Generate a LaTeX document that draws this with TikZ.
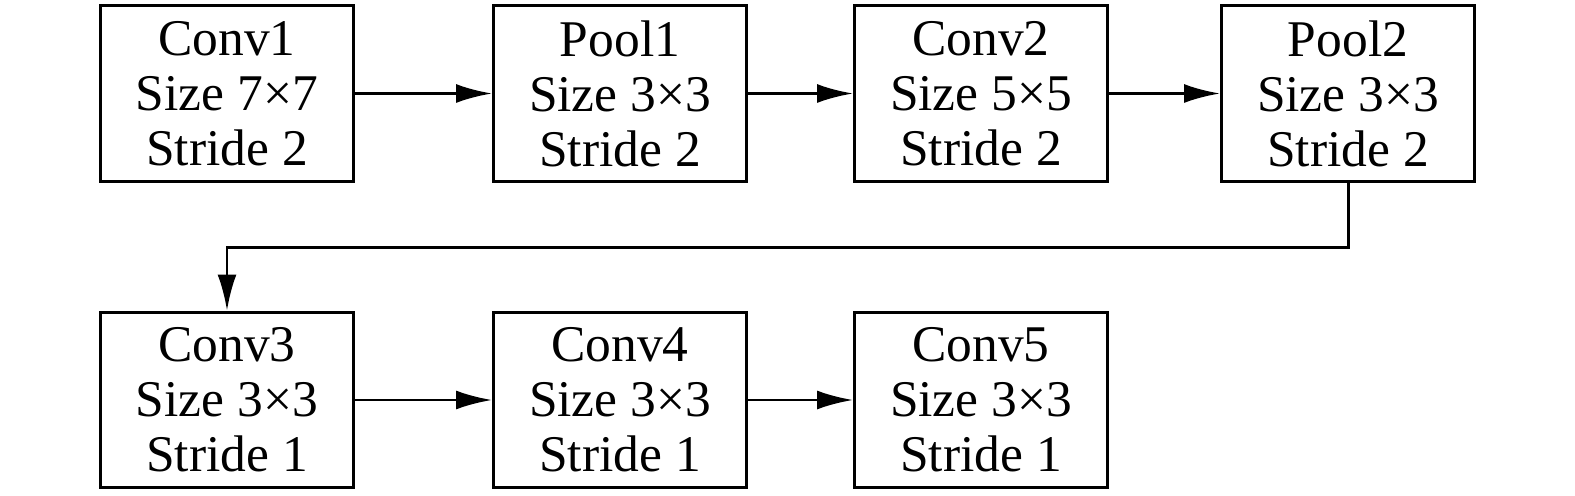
\documentclass[tikz,border=0pt]{standalone}
\usepackage{fontspec}
\setmainfont{Liberation Serif}
\usetikzlibrary{arrows.meta}

\tikzset{
  layer/.style={draw, line width=1.7pt, minimum width=5.06cm, minimum height=3.52cm, align=center, inner sep=0pt,
    font=\fontsize{29.3}{31.3}\selectfont},
  flow/.style={line width=1.7pt, -{Latex[length=0.72cm,width=0.38cm]}}
}

\begin{document}
\begin{tikzpicture}[x=0.02cm,y=-0.02cm]
\useasboundingbox (0,0) rectangle (1575,496);
\path(227,93.5) node[layer](Conv1){Conv1\\Size 7×7\\Stride 2} (620,93.5) node[layer](Pool1){Pool1\\Size 3×3\\Stride 2} (981,93.5) node[layer](Conv2){Conv2\\Size 5×5\\Stride 2} (1348,93.5) node[layer](Pool2){Pool2\\Size 3×3\\Stride 2} (227,400) node[layer](Conv3){Conv3\\Size 3×3\\Stride 1} (620,400) node[layer](Conv4){Conv4\\Size 3×3\\Stride 1} (981,400) node[layer](Conv5){Conv5\\Size 3×3\\Stride 1};

\draw[flow] (Conv1) -- (Pool1);
\draw[flow] (Pool1) -- (Conv2);
\draw[flow] (Conv2) -- (Pool2);
\draw[flow] (Pool2.south) -- ++(0,65) -| (Conv3.north);
\draw[flow] (Conv3) -- (Conv4);
\draw[flow] (Conv4) -- (Conv5);
\end{tikzpicture}
\end{document}
